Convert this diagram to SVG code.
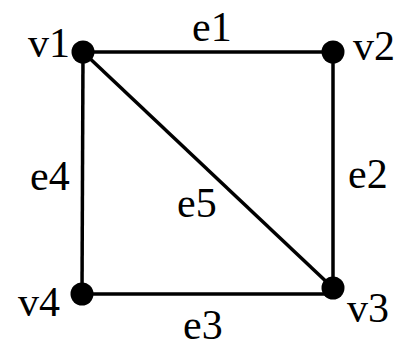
<svg xmlns="http://www.w3.org/2000/svg" width="399" height="343" viewBox="0 0 399 343">
<style>
.edge{stroke:#000;stroke-width:3.5;fill:none}
.node{fill:#000}
text{font-family:"Liberation Serif","DejaVu Serif",serif;font-size:42px;fill:#000}
</style>
<rect width="399" height="343" fill="#fff"/>
<g id="connectors">
<line id="e1" class="edge" x1="83" y1="52" x2="333" y2="52"/>
<line id="e2" class="edge" x1="333" y1="52" x2="333" y2="288"/>
<line id="e3" class="edge" x1="82" y1="294" x2="333" y2="294"/>
<line id="e4" class="edge" x1="83" y1="52" x2="82" y2="294"/>
<line id="e5" class="edge" x1="83" y1="52" x2="333" y2="288"/>
<text x="192" y="41">e1</text>
<text x="348" y="188">e2</text>
<text x="183" y="339">e3</text>
<text x="30" y="190">e4</text>
<text x="177" y="217">e5</text>
</g>
<g id="v1"><circle class="node" cx="83" cy="52" r="11.5"/><text x="28" y="57">v1</text></g>
<g id="v2"><circle class="node" cx="333" cy="52" r="11.5"/><text x="353" y="60">v2</text></g>
<g id="v3"><circle class="node" cx="333" cy="288" r="11.5"/><text x="347" y="322">v3</text></g>
<g id="v4"><circle class="node" cx="82" cy="294" r="11.5"/><text x="18" y="316">v4</text></g>
</svg>
